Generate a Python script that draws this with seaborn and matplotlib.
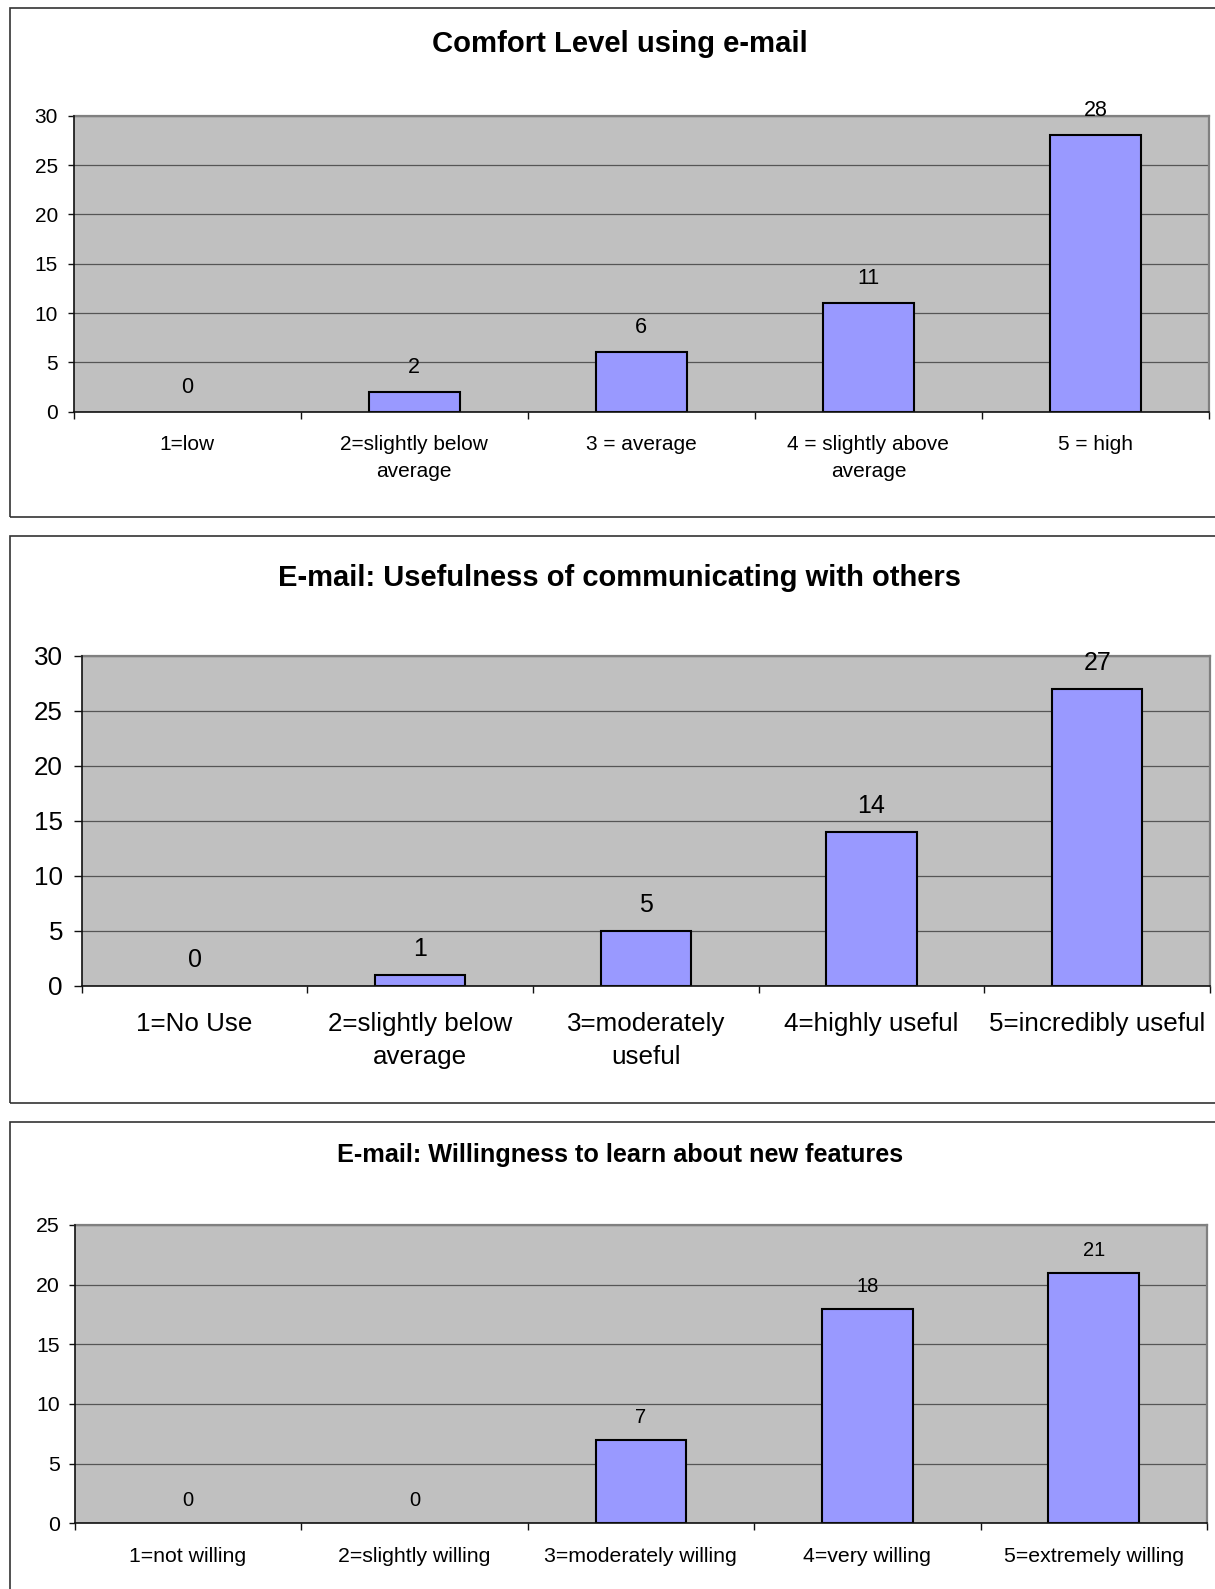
import matplotlib
matplotlib.use("Agg")
import matplotlib.pyplot as plt
from matplotlib.patches import Rectangle
import numpy as np
import pandas as pd
import seaborn as sns

# ---- data -------------------------------------------------------------
comfort_labels = ["1=low", "2=slightly below\naverage", "3 = average",
                  "4 = slightly above\naverage", "5 = high"]
comfort_counts = [0, 2, 6, 11, 28]

useful_labels = ["1=No Use", "2=slightly below\naverage", "3=moderately\nuseful",
                 "4=highly useful", "5=incredibly useful"]
useful_counts = [0, 1, 5, 14, 27]

willing_labels = ["1=not willing", "2=slightly willing", "3=moderately willing",
                  "4=very willing", "5=extremely willing"]
willing_counts = [0, 0, 7, 18, 21]

titles = ["Comfort Level using e-mail",
          "E-mail: Usefulness of communicating with others",
          "E-mail: Willingness to learn about new features"]
y_max = [30, 30, 25]

# ---- style ------------------------------------------------------------
sns.set_theme(style="white")
plt.rcParams['font.family'] = ['Liberation Sans', 'DejaVu Sans']

W, H, DPI = 1215, 1589, 100
fig = plt.figure(figsize=(W / DPI, H / DPI), dpi=DPI)

BAR = "#9999FF"
PLOT_BG = "#C0C0C0"

# layout per panel, in pixels from the top-left corner
layout = [
    dict(frame=(10, 7.5, 517), plot=(73.7, 1209, 115.7, 411.7), title_y=44.5,
         title_fs=21.1, tick_fs=15, label_fs=15.5, label_off=19, xpad=17,
         ypad=7, ylen=4.3, lsp=1.5),
    dict(frame=(10, 535.7, 1103.3), plot=(81.7, 1210, 655.7, 985.7), title_y=577.6,
         title_fs=21, tick_fs=18.7, label_fs=18, label_off=19, xpad=19,
         ypad=8, ylen=5.5, lsp=1.45),
    dict(frame=(10.5, 1122, 1620), plot=(74.7, 1207, 1225, 1523.3), title_y=1155,
         title_fs=18.2, tick_fs=15.3, label_fs=14.5, label_off=17, xpad=17,
         ypad=6, ylen=4.6, lsp=1.5),
]

panels = [(comfort_labels, comfort_counts),
          (useful_labels, useful_counts),
          (willing_labels, willing_counts)]

for k, ((cats, vals), lay, title, ymax) in enumerate(zip(panels, layout, titles, y_max)):
    # outer chart frame
    fx, fy0, fy1 = lay["frame"]
    fig.patches.append(Rectangle((fx / W, 1 - fy1 / H), (1240 - fx) / W, (fy1 - fy0) / H,
                                 transform=fig.transFigure, fill=False,
                                 edgecolor="#333333", linewidth=1.2, zorder=0))
    # chart title
    fig.text(620 / W, 1 - lay["title_y"] / H, title, ha="center", va="center",
             fontsize=lay["title_fs"], fontweight="bold", color="black")

    x0, x1, y0, y1 = lay["plot"]
    ax = fig.add_axes([x0 / W, 1 - y1 / H, (x1 - x0) / W, (y1 - y0) / H])
    ax.set_facecolor(PLOT_BG)

    df = pd.DataFrame({"category": pd.Categorical(cats, categories=cats, ordered=True),
                       "count": vals})
    sns.barplot(data=df, x="category", y="count", ax=ax, color=BAR, width=0.4,
                edgecolor="black", linewidth=1.5, saturation=1)
    for p in ax.patches:
        p.set_facecolor(BAR)
        p.set_zorder(3)
        if p.get_height() == 0:
            p.set_visible(False)

    ax.set_xlim(-0.5, 4.5)
    ax.set_ylim(0, ymax)
    ax.set_yticks(np.arange(0, ymax + 1, 5))
    ax.set_xlabel("")
    ax.set_ylabel("")

    ax.yaxis.grid(True, color="#555555", linewidth=0.9)
    ax.xaxis.grid(False)
    ax.set_axisbelow(True)

    for side in ("left", "bottom"):
        ax.spines[side].set_color("#111111")
        ax.spines[side].set_linewidth(1.2)
        ax.spines[side].set_zorder(4)
    for side in ("top", "right"):
        ax.spines[side].set_color("#808080")
        ax.spines[side].set_linewidth(1.6)

    ax.set_xticks(np.arange(-0.5, 5, 1), minor=True)
    ax.tick_params(axis="x", which="major", length=0, pad=lay["xpad"],
                   labelsize=lay["tick_fs"], labelcolor="black")
    ax.tick_params(axis="x", which="minor", length=4.8, width=1.0, direction="out",
                   color="#111111", bottom=True)
    ax.tick_params(axis="y", which="major", length=lay["ylen"], width=1.0,
                   direction="out", color="#111111", left=True, pad=lay["ypad"],
                   labelsize=lay["tick_fs"], labelcolor="black")
    for t in ax.get_xticklabels():
        t.set_linespacing(lay["lsp"])

    # value labels above each bar
    for i, v in enumerate(vals):
        ax.annotate(str(v), xy=(i, v), xytext=(0, lay["label_off"]),
                    textcoords="offset pixels", ha="center", va="baseline",
                    fontsize=lay["label_fs"], color="black", zorder=5,
                    annotation_clip=False)

fig.savefig("out.png", dpi=DPI, facecolor="white")
